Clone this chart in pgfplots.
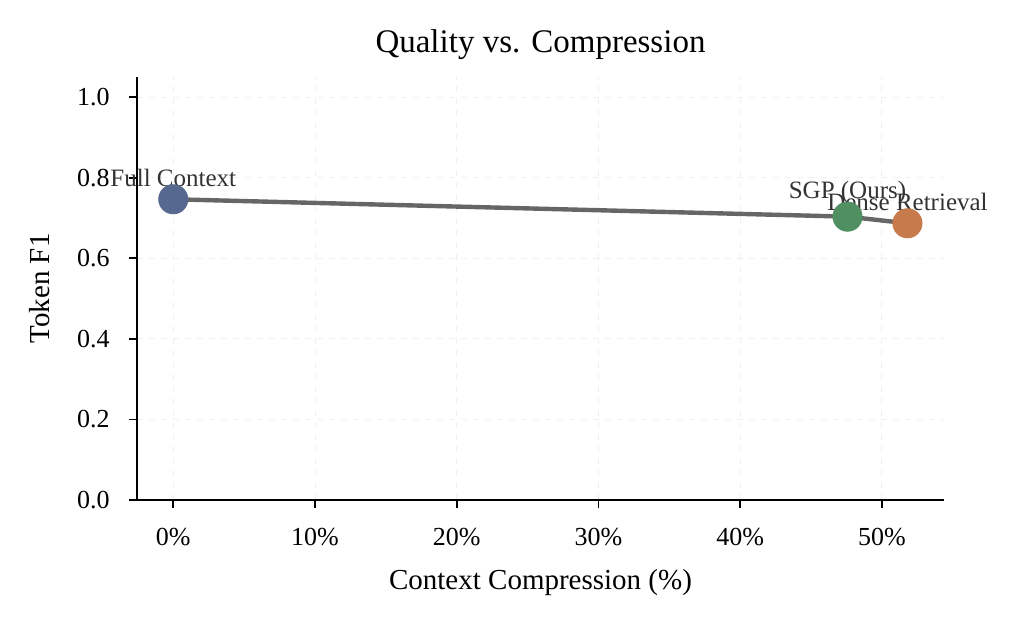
\documentclass[border=0pt]{standalone}
\usepackage{pgfplots}
\pgfplotsset{compat=1.18}
\usepackage{fontspec}
\setmainfont{Liberation Serif}

\definecolor{fullc}{HTML}{56688F}
\definecolor{sgpc}{HTML}{4F8F62}
\definecolor{densec}{HTML}{C77A4C}
\definecolor{linec}{HTML}{666666}
\definecolor{annc}{HTML}{333333}

\begin{document}
\begin{tikzpicture}
\begin{axis}[
    scale only axis,
    width=403.8pt, height=211.65pt,
    xmin=-2.58, xmax=54.4,
    ymin=0, ymax=1.051,
    axis lines*=left,
    axis line style={line width=0.9pt, black},
    tick align=outside,
    major tick length=4pt,
    tick style={line width=0.9pt, black},
    xtick={0,10,20,30,40,50},
    xticklabel={\pgfmathprintnumber{\tick}\%},
    ytick={0,0.2,0.4,0.6,0.8,1.0},
    /pgf/number format/assume math mode=true,
    ticklabel style={font=\fontsize{13}{15}\selectfont},
    xticklabel style={yshift=-6.8pt},
    yticklabel style={xshift=-6pt, /pgf/number format/fixed, /pgf/number format/fixed zerofill, /pgf/number format/precision=1},
    grid=major,
    grid style={dashed, line width=0.5pt, color=black!6},
    every axis title shift=0pt,
    title={Quality vs. Compression},
    title style={font=\fontsize{16.5}{19}\selectfont, at={(axis description cs:0.5,1.0581)}, anchor=base},
    xlabel={Context Compression (\%)},
    ylabel={Token F1},
    label style={font=\fontsize{14.5}{17}\selectfont},
    xlabel style={at={(axis description cs:0.5,-0.2103)}, anchor=base},
    ylabel style={at={(axis description cs:-0.1197,0.5)}, anchor=center},
    clip=false,
]
% trade-off line
\addplot[linec, line width=2.2pt, no marks] coordinates {
    (0,0.7467) (47.57,0.7035) (51.8,0.687)
};
% methods
\addplot[only marks, mark=*, mark size=7.3pt, color=fullc] coordinates {(0,0.7467)}
    node[anchor=south, yshift=6pt, inner sep=0pt, text=annc, font=\fontsize{12.5}{14}\selectfont] {Full Context};
\addplot[only marks, mark=*, mark size=7.3pt, color=sgpc] coordinates {(47.57,0.7035)}
    node[anchor=south, yshift=6pt, inner sep=0pt, text=annc, font=\fontsize{12.5}{14}\selectfont] {SGP (Ours)};
\addplot[only marks, mark=*, mark size=7.3pt, color=densec] coordinates {(51.8,0.687)}
    node[anchor=south, yshift=6pt, inner sep=0pt, text=annc, font=\fontsize{12.5}{14}\selectfont] {Dense Retrieval};
\end{axis}
\pgfresetboundingbox
\path[use as bounding box] ([xshift=-68.35pt,yshift=-63.5pt]current axis.south west)
    rectangle ([xshift=35.85pt,yshift=38.35pt]current axis.north east);
\end{tikzpicture}
\end{document}
